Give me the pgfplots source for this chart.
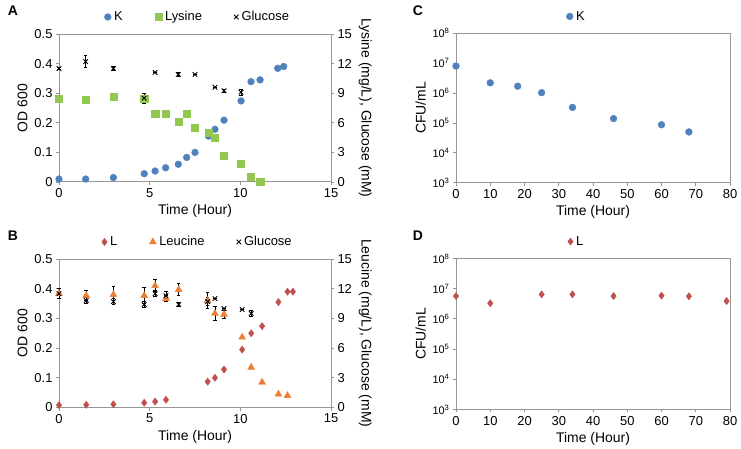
\documentclass[border=0pt]{standalone}
\usepackage{fontspec}
\setmainfont{Liberation Sans}
\usepackage{pgfplots}
\pgfplotsset{compat=1.18}

\definecolor{kblue}{RGB}{79,129,189}
\definecolor{lysgreen}{RGB}{146,200,80}
\definecolor{lred}{RGB}{192,80,77}
\definecolor{leuorange}{RGB}{237,125,49}
\definecolor{axgray}{RGB}{150,150,150}

\pgfplotsset{
  panel/.style={
    scale only axis,
    axis line style={axgray, line width=1pt, -},
    tick style={axgray, line width=0.8pt},
    tick align=outside,
    major tick length=3bp,
    every tick label/.append style={font=\fontsize{13}{15}\selectfont, text=black},
    label style={font=\fontsize{14}{16}\selectfont},
    /pgf/number format/assume math mode=true,
    clip=false,
    legend style={draw=none, fill=none, font=\fontsize{13}{15}\selectfont,
      legend columns=-1,
      /tikz/every odd column/.append style={column sep=1bp},
      /tikz/every even column/.append style={column sep=30bp}},
    legend image code/.code={\draw plot[only marks] coordinates {(0.15cm,0cm)};},
  },
  errs/.style={error bars/.cd, y dir=both, y explicit,
    error bar style={black, line width=0.6pt},
    error mark options={black, mark size=1.8bp, line width=0.6pt, rotate=90}},
  kmark/.style={only marks, mark=*, mark size=3.4bp, kblue, draw=kblue},
  lysmark/.style={only marks, mark=square*, mark size=3.6bp, lysgreen, draw=lysgreen},
  glcmark/.style={only marks, mark=x, mark size=3.2bp, black, line width=0.9pt},
  lmark/.style={only marks, mark=diamond*, mark size=3.6bp, lred, draw=lred},
  leumark/.style={only marks, mark=triangle*, mark size=4bp, leuorange, draw=leuorange},
}

\begin{document}
\begin{tikzpicture}
\useasboundingbox (0,0) rectangle (741bp,449bp);

% ---------- A ----------
\begin{axis}[panel, at={(59bp,267bp)}, anchor=south west,
  width=272bp, height=148bp,
  xmin=0, xmax=15, ymin=0, ymax=0.5,
  xtick={0,5,10,15}, ytick={0,0.1,...,0.5},
  ytick pos=left, xtick pos=bottom,
  xlabel={Time (Hour)}, ylabel={OD 600}]
\addplot[kmark] coordinates {
  (0,0.01)(1.47,0.01)(3,0.015)(4.7,0.028)(5.3,0.037)(5.88,0.048)(6.58,0.06)
  (7.04,0.083)(7.5,0.10)(8.24,0.155)(8.6,0.178)(9.1,0.209)(10.04,0.274)
  (10.59,0.339)(11.09,0.345)(12.06,0.384)(12.39,0.39)};
\end{axis}
\begin{axis}[panel, at={(59bp,267bp)}, anchor=south west,
  width=272bp, height=148bp,
  xmin=0, xmax=15, ymin=0, ymax=15,
  axis x line=none, axis y line*=right,
  ytick={0,3,...,15},
  ylabel={Lysine (mg/L), Glucose (mM)}, ylabel style={rotate=180},
  legend style={at={(0.51,1.05)}, anchor=south}]
\addlegendimage{kmark}
\addlegendentry{K}
\addplot[lysmark] coordinates {
  (0,8.45)(1.47,8.35)(3,8.65)(4.7,8.48)(5.3,6.96)(5.88,6.96)(6.58,6.1)
  (7.04,6.96)(7.5,5.54)(8.24,5.03)(8.6,4.53)(9.1,2.67)(10.04,1.82)
  (10.59,0.54)(11.09,0)};
\addlegendentry{Lysine}
\addplot[glcmark, errs] coordinates {
  (0,11.5)+-(0,0.1) (1.47,12.2)+-(0,0.6) (3,11.5)+-(0,0.2) (4.7,8.5)+-(0,0.5)
  (5.3,11.1)+-(0,0) (6.58,10.9)+-(0,0.2) (7.5,10.9)+-(0,0) (8.6,9.6)+-(0,0)
  (9.1,9.25)+-(0,0.15) (10.04,9.1)+-(0,0.3)};
\addlegendentry{Glucose}
\end{axis}

% ---------- B ----------
\begin{axis}[panel, at={(59bp,41.5bp)}, anchor=south west,
  width=272bp, height=148.5bp,
  xmin=0, xmax=15, ymin=0, ymax=0.5,
  xtick={0,5,10,15}, ytick={0,0.1,...,0.5},
  ytick pos=left, xtick pos=bottom,
  xlabel={Time (Hour)}, ylabel={OD 600}]
\addplot[lmark] coordinates {
  (0,0.008)(1.5,0.009)(3,0.011)(4.7,0.016)(5.3,0.02)(5.9,0.026)
  (8.2,0.087)(8.6,0.10)(9.1,0.128)(10.1,0.195)(10.6,0.25)(11.2,0.274)
  (12.1,0.355)(12.6,0.39)(12.9,0.39)};
\end{axis}
\begin{axis}[panel, at={(59bp,41.5bp)}, anchor=south west,
  width=272bp, height=148.5bp,
  xmin=0, xmax=15, ymin=0, ymax=15,
  axis x line=none, axis y line*=right,
  ytick={0,3,...,15},
  ylabel={Leucine (mg/L), Glucose (mM)}, ylabel style={rotate=180},
  legend style={at={(0.51,1.05)}, anchor=south}]
\addlegendimage{lmark}
\addlegendentry{L}
\addplot[leumark, errs] coordinates {
  (0,11.5)+-(0,0.5) (1.5,11.3)+-(0,0.5) (3,11.4)+-(0,0.8) (4.7,11.3)+-(0,0.8)
  (5.3,12.3)+-(0,0.6) (5.9,11.0)+-(0,0.3) (6.6,11.9)+-(0,0.6) (8.2,10.8)+-(0,0.8)
  (8.6,9.5)+-(0,0.7) (9.1,9.4)+-(0,0.4) (10.1,7.1)+-(0,0) (10.6,4.05)+-(0,0)
  (11.2,2.55)+-(0,0) (12.1,1.35)+-(0,0) (12.6,1.2)+-(0,0)};
\addlegendentry{Leucine}
\addplot[glcmark, errs] coordinates {
  (0,11.5)+-(0,0.5) (1.5,10.8)+-(0,0.3) (3,10.7)+-(0,0.3) (4.7,10.4)+-(0,0.3)
  (5.3,11.5)+-(0,0.3) (5.9,11.3)+-(0,0.4) (6.6,10.4)+-(0,0.2) (8.2,10.7)+-(0,0.4)
  (8.6,11.0)+-(0,0) (9.1,10.0)+-(0,0) (10.1,9.9)+-(0,0) (10.6,9.5)+-(0,0.3)};
\addlegendentry{Glucose}
\end{axis}

% ---------- C ----------
\begin{axis}[panel, at={(456bp,266.3bp)}, anchor=south west,
  width=274bp, height=149.4bp,
  xmin=0, xmax=80, ymode=log, ymin=1e3, ymax=1e8,
  xtick={0,10,...,80}, ytick pos=left, xtick pos=bottom,
  ytick={1e3,1e4,1e5,1e6,1e7,1e8}, yminorticks=false,
  yticklabels={10\textsuperscript{3},10\textsuperscript{4},10\textsuperscript{5},10\textsuperscript{6},10\textsuperscript{7},10\textsuperscript{8}},
  yticklabel style={font=\fontsize{11}{13}\selectfont},
  xlabel={Time (Hour)}, ylabel={CFU/mL},
  legend style={at={(0.44,1.05)}, anchor=south}]
\addplot[kmark] coordinates {
  (0,8.0e6)(10,2.2e6)(18,1.7e6)(25,1.03e6)(34,3.3e5)(46,1.4e5)(60,8.7e4)(68,5.0e4)};
\addlegendentry{K}
\end{axis}

% ---------- D ----------
\begin{axis}[panel, at={(456bp,39.5bp)}, anchor=south west,
  width=274bp, height=151bp,
  xmin=0, xmax=80, ymode=log, ymin=1e3, ymax=1e8,
  xtick={0,10,...,80}, ytick pos=left, xtick pos=bottom,
  ytick={1e3,1e4,1e5,1e6,1e7,1e8}, yminorticks=false,
  yticklabels={10\textsuperscript{3},10\textsuperscript{4},10\textsuperscript{5},10\textsuperscript{6},10\textsuperscript{7},10\textsuperscript{8}},
  yticklabel style={font=\fontsize{11}{13}\selectfont},
  xlabel={Time (Hour)}, ylabel={CFU/mL},
  legend style={at={(0.44,1.05)}, anchor=south}]
\addplot[lmark] coordinates {
  (0,5.7e6)(10,3.3e6)(25,6.5e6)(34,6.5e6)(46,5.7e6)(60,5.9e6)(68,5.6e6)(79,3.9e6)};
\addlegendentry{L}
\end{axis}

% panel letters
\node[font=\bfseries\fontsize{14}{16}\selectfont] at (13bp,438bp) {A};
\node[font=\bfseries\fontsize{14}{16}\selectfont] at (13bp,213bp) {B};
\node[font=\bfseries\fontsize{14}{16}\selectfont] at (418bp,438bp) {C};
\node[font=\bfseries\fontsize{14}{16}\selectfont] at (418bp,213bp) {D};
\end{tikzpicture}
\end{document}
